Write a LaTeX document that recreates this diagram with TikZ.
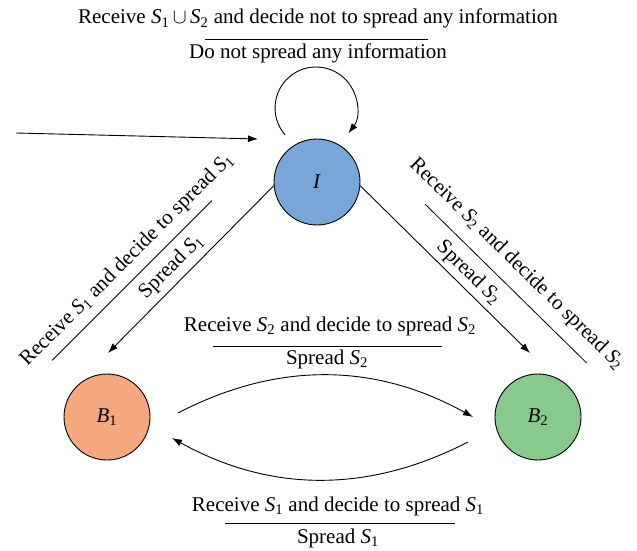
\documentclass[tikz,border=0pt]{standalone}
\usepackage{fontspec}
\setmainfont{Liberation Serif}
\usetikzlibrary{arrows.meta}
\definecolor{cI}{RGB}{120,166,216}
\definecolor{cBa}{RGB}{245,168,125}
\definecolor{cBb}{RGB}{136,201,141}
\newcommand\Sx[1]{\textit{S}\textsubscript{#1}}
\begin{document}
\begin{tikzpicture}[x=1pt,y=1pt,
  lbl/.style={font=\fontsize{21}{25}\selectfont, inner sep=0pt},
  stnode/.style={circle, draw, line width=0.9pt, minimum size=86pt, inner sep=0pt, font=\fontsize{21}{25}\selectfont},
  arr/.style={line width=0.9pt, -{Latex[length=10pt,width=7pt]}},
  bar/.style={line width=0.8pt}]
\useasboundingbox (0,0) rectangle (637,550);
% states
\node[stnode, fill=cI] (I) at (317,368) {\textit{I}};
\node[stnode, fill=cBa] (B1) at (107,133) {\textit{B}\textsubscript{1}};
\node[stnode, fill=cBb] (B2) at (538,133) {\textit{B}\textsubscript{2}};
% incoming arrow
\coordinate (in0) at (16,417);
\coordinate (in1) at (258,411);
\draw[arr] (in0) -- (in1);
% self loop
\coordinate (lp0) at (285.1,415.1);
\draw[arr] (lp0) arc[start angle=221, end angle=-38, radius=41];
% diagonals
\coordinate (b1in) at (108,197);
\coordinate (b2in) at (530,197);
\draw[arr] (I.185) -- (b1in);
\draw[arr] (I.-5) -- (b2in);
% curved arrows
\coordinate (t0) at (178,137);
\coordinate (t1) at (473,133);
\draw[arr] (t0) .. controls (276,188) and (374,188) .. (t1);
\coordinate (u0) at (468,108);
\coordinate (u1) at (172,112);
\draw[arr] (u0) .. controls (369,57) and (271,57) .. (u1);
% top label
\node[lbl, anchor=base] (topA) at (318,526) {Receive \Sx{1}\,$\cup$\,\Sx{2} and decide not to spread any information};
\draw[bar] (205,511) -- (428,511);
\node[lbl, anchor=base] (topB) at (318,491.5) {Do not spread any information};
% middle label
\node[lbl, anchor=base] (midA) at (330,218.3) {Receive \Sx{2} and decide to spread \Sx{2}};
\draw[bar] (213,203.3) -- (442,203.3);
\node[lbl, anchor=base] (midB) at (327,186) {Spread \Sx{2}};
% bottom label
\node[lbl, anchor=base] (botA) at (338,39) {Receive \Sx{1} and decide to spread \Sx{1}};
\draw[bar] (225,27) -- (455,27);
\node[lbl, anchor=base] (botB) at (338,6.5) {Spread \Sx{1}};
% left diagonal label
\begin{scope}[shift={(132,269.5)}, rotate=45]
\draw[bar] (-113,0) -- (113,0);
\node[lbl, transform shape] (lA) at (11,18) {Receive \Sx{1} and decide to spread \Sx{1}};
\node[lbl, transform shape] (lB) at (37.5,-18.4) {Spread \Sx{1}};
\end{scope}
% right diagonal label
\begin{scope}[shift={(505.8,266.5)}, rotate=-44.5]
\draw[bar] (-113.4,0) -- (113.4,0);
\node[lbl, transform shape] (rA) at (-6,21.4) {Receive \Sx{2} and decide to spread \Sx{2}};
\node[lbl, transform shape] (rB) at (-34,-18.6) {Spread \Sx{2}};
\end{scope}
\end{tikzpicture}
\end{document}
